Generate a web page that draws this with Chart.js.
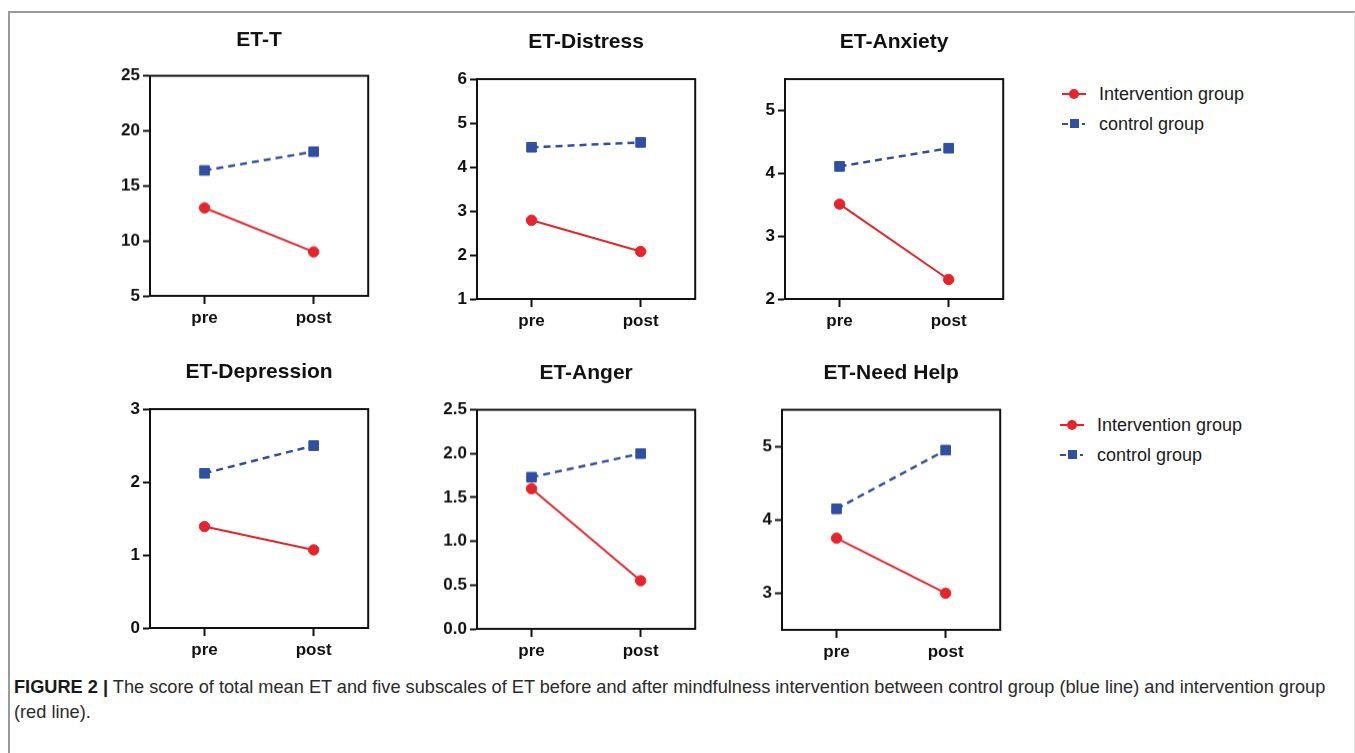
<!DOCTYPE html>
<html>
<head>
<meta charset="utf-8">
<script src="https://cdn.jsdelivr.net/npm/chart.js@4.4.1/dist/chart.umd.min.js"></script>
<style>
  html, body { margin: 0; padding: 0; background: #fff; }
  body { width: 1355px; height: 753px; position: relative; overflow: hidden; font-family: "Liberation Sans", Arial, sans-serif; }
  #frame { position: absolute; left: 8px; top: 11px; width: 1344px; height: 760px; border-top: 2px solid #9a9a9a; border-left: 2px solid #9a9a9a; border-right: 1px solid #e4e4e4; }
  .panel { position: absolute; }
  .legend { position: absolute; font-size: 18px; color: #1a1a1a; }
  .legend .row { position: absolute; left: 0; height: 20px; white-space: nowrap; }
  .legend .txt { position: absolute; top: 0; line-height: 20px; }
  .mk { position: absolute; }
  #caption { position: absolute; left: 14px; top: 675px; width: 1330px; font-family: "Liberation Sans Narrow", "Arial Narrow", "Liberation Sans", sans-serif; font-size: 18.2px; line-height: 25px; color: #2a2a2a; }
  #caption b { color: #1a1a1a; }
</style>
</head>
<body>
<div id="frame"></div>
<div id="charts"></div>
<div id="legend1" class="legend" style="left:1060px; top:84px;"></div>
<div id="legend2" class="legend" style="left:1058px; top:415px;"></div>
<div id="caption"><b>FIGURE 2</b> <b>|</b> The score of total mean ET and five subscales of ET before and after mindfulness intervention between control group (blue line) and intervention group (red line).</div>

<script>
const categories = ["pre", "post"];
const titles = ["ET-T", "ET-Distress", "ET-Anxiety", "ET-Depression", "ET-Anger", "ET-Need Help"];
const seriesNames = ["Intervention group", "control group"];

// values, [pre, post]
const interventionValues = [
  [13.0, 9.0],
  [2.79, 2.08],
  [3.51, 2.31],
  [1.39, 1.07],
  [1.60, 0.55],
  [3.75, 3.0],
];
const controlValues = [
  [16.4, 18.1],
  [4.45, 4.56],
  [4.11, 4.40],
  [2.12, 2.50],
  [1.73, 2.0],
  [4.15, 4.95],
];

// y axes
const yMin = [5, 1, 2, 0, 0, 2.5];
const yMax = [25, 6, 5.5, 3, 2.5, 5.5];
const yTicks = [
  [5, 10, 15, 20, 25],
  [1, 2, 3, 4, 5, 6],
  [2, 3, 4, 5],
  [0, 1, 2, 3],
  [0, 0.5, 1, 1.5, 2, 2.5],
  [3, 4, 5],
];
const tickDecimals = [0, 0, 0, 0, 1, 0];

const RED = "#e8242b";
const BLUE = "#2f4fa5";
const INK = "#111111";
const FONT = "'Liberation Sans', Arial, sans-serif";

// plot area of each panel in page pixels, and title centre line
const panels = [
  { left: 150, right: 370, top: 76, bottom: 296, titleY: 41 },
  { left: 477, right: 697, top: 79, bottom: 299, titleY: 42.5 },
  { left: 785, right: 1005, top: 79, bottom: 299, titleY: 42.5 },
  { left: 150, right: 370, top: 409, bottom: 628, titleY: 372.5 },
  { left: 477, right: 697, top: 410, bottom: 629, titleY: 374 },
  { left: 782, right: 1002, top: 410, bottom: 630, titleY: 374 },
];

const Y_W = 60;
const X_H = 42;
const PAD_R = 6;
const TITLE_SIZE = 21;

const framePlugin = {
  id: "frame",
  afterDraw(chart) {
    const a = chart.chartArea;
    const ctx = chart.ctx;
    ctx.save();
    ctx.strokeStyle = INK;
    ctx.lineWidth = 2;
    ctx.strokeRect(a.left, a.top, a.right - a.left, a.bottom - a.top);
    ctx.restore();
  },
};

function makePanel(i) {
  const p = panels[i];
  const lineH = TITLE_SIZE * 1.2;
  const canvasTop = p.titleY - lineH / 2;
  const titlePadBottom = p.top - canvasTop - lineH;
  const w = Y_W + (p.right - p.left) + PAD_R;
  const h = (p.bottom - canvasTop) + X_H;

  const div = document.createElement("div");
  div.className = "panel";
  div.style.left = (p.left - Y_W) + "px";
  div.style.top = canvasTop + "px";
  const canvas = document.createElement("canvas");
  canvas.width = w;
  canvas.height = h;
  canvas.style.width = w + "px";
  canvas.style.height = h + "px";
  div.appendChild(canvas);
  document.getElementById("charts").appendChild(div);

  const tickFont = { family: FONT, size: 17, weight: "bold" };

  new Chart(canvas.getContext("2d"), {
    type: "line",
    data: {
      labels: categories,
      datasets: [
        {
          label: seriesNames[0],
          data: interventionValues[i],
          borderColor: RED,
          backgroundColor: RED,
          borderWidth: 2,
          pointStyle: "circle",
          pointRadius: 5.2,
          pointBorderWidth: 1,
        },
        {
          label: seriesNames[1],
          data: controlValues[i],
          borderColor: BLUE,
          backgroundColor: BLUE,
          borderWidth: 2.5,
          borderDash: [7, 5],
          pointStyle: "rect",
          pointRadius: 6.8,
          pointBorderWidth: 1,
        },
      ],
    },
    options: {
      responsive: false,
      animation: false,
      devicePixelRatio: 1,
      layout: { padding: { top: 0, right: PAD_R, bottom: 0, left: 0 } },
      plugins: {
        legend: { display: false },
        tooltip: { enabled: false },
        title: {
          display: true,
          text: titles[i],
          fullSize: false,
          color: INK,
          font: { family: FONT, size: TITLE_SIZE, weight: "bold", lineHeight: 1.2 },
          padding: { top: 0, bottom: titlePadBottom },
        },
      },
      scales: {
        x: {
          offset: true,
          grid: {
            display: true,
            offset: false,
            drawOnChartArea: false,
            drawTicks: true,
            tickLength: 8,
            tickWidth: 2,
            tickColor: INK,
          },
          border: { display: true, color: INK, width: 2 },
          ticks: { color: INK, font: tickFont, padding: 4 },
          afterFit: (axis) => { axis.height = X_H; },
        },
        y: {
          min: yMin[i],
          max: yMax[i],
          afterBuildTicks: (axis) => {
            axis.ticks = yTicks[i].map((v) => ({ value: v }));
          },
          grid: {
            display: true,
            drawOnChartArea: false,
            drawTicks: true,
            tickLength: 7,
            tickWidth: 2,
            tickColor: INK,
          },
          border: { display: true, color: INK, width: 2 },
          ticks: {
            color: INK,
            font: tickFont,
            padding: 3,
            callback: (v) => Number(v).toFixed(tickDecimals[i]),
          },
          afterFit: (axis) => { axis.width = Y_W; },
        },
      },
    },
    plugins: [framePlugin],
  });
}

function buildLegend(id) {
  const el = document.getElementById(id);
  // intervention row
  const r1 = document.createElement("div");
  r1.className = "row";
  r1.style.top = "0px";
  r1.innerHTML =
    '<div class="mk" style="left:2px;top:9px;width:24px;height:0;border-top:2px solid ' + RED + '"></div>' +
    '<div class="mk" style="left:9px;top:5px;width:10px;height:10px;border-radius:50%;background:' + RED + '"></div>' +
    '<div class="txt" style="left:39px">' + seriesNames[0] + '</div>';
  el.appendChild(r1);
  // control row
  const r2 = document.createElement("div");
  r2.className = "row";
  r2.style.top = "30px";
  r2.innerHTML =
    '<div class="mk" style="left:2px;top:9px;width:6px;height:0;border-top:2px solid ' + BLUE + '"></div>' +
    '<div class="mk" style="left:10px;top:5px;width:9px;height:9px;background:' + BLUE + '"></div>' +
    '<div class="mk" style="left:22px;top:9px;width:3px;height:0;border-top:2px solid ' + BLUE + '"></div>' +
    '<div class="txt" style="left:39px">' + seriesNames[1] + '</div>';
  el.appendChild(r2);
}

document.addEventListener("DOMContentLoaded", () => {
  for (let i = 0; i < titles.length; i++) {
    makePanel(i);
  }
  buildLegend("legend1");
  buildLegend("legend2");
});
</script>
</body>
</html>
